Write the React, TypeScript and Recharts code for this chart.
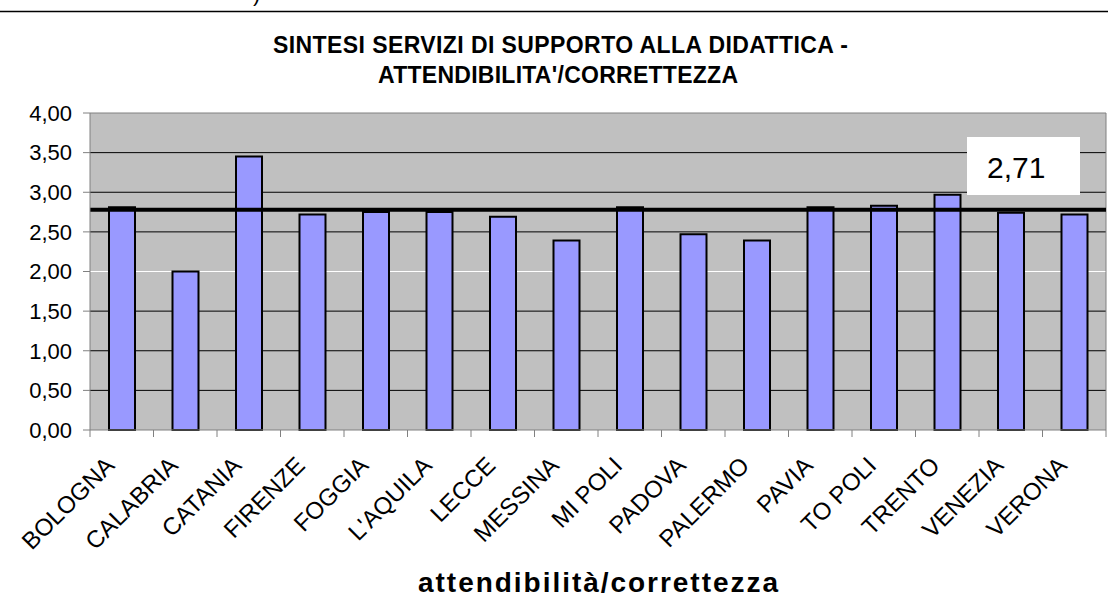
import { Bar, BarChart, CartesianGrid, ReferenceLine, XAxis, YAxis } from 'recharts';

// sedi e punteggi medi "attendibilità/correttezza"
const CITIES = [
  'BOLOGNA', 'CALABRIA', 'CATANIA', 'FIRENZE', 'FOGGIA', "L'AQUILA", 'LECCE', 'MESSINA',
  'MI POLI', 'PADOVA', 'PALERMO', 'PAVIA', 'TO POLI', 'TRENTO', 'VENEZIA', 'VERONA',
];
const SCORES = [2.81, 2.0, 3.45, 2.72, 2.75, 2.75, 2.69, 2.39, 2.81, 2.47, 2.39, 2.81, 2.83, 2.97, 2.74, 2.72];
const Y_TICKS = [0, 0.5, 1, 1.5, 2, 2.5, 3, 3.5, 4];
const MEAN_LINE = 2.78;
const MEAN_LABEL = '2,71';

const W = 1108;
const H = 602;
const PLOT_LEFT = 90;
const PLOT_RIGHT = 2;
const BAND = (W - PLOT_LEFT - PLOT_RIGHT) / CITIES.length;
const FONT = "Arial, 'Liberation Sans', sans-serif";

const data = CITIES.map((name, i) => ({ name, value: SCORES[i] }));

const fmt = (v: number) => v.toFixed(2).replace('.', ',');

// tacche tra le categorie (stile Excel) + etichette ruotate
function CityTick(props: any) {
  const { x, y, payload, index } = props;
  const left = x - BAND / 2;
  return (
    <g>
      <line x1={left} x2={left} y1={y} y2={y + 7} stroke="#808080" />
      {index === CITIES.length - 1 && (
        <line x1={x + BAND / 2} x2={x + BAND / 2} y1={y} y2={y + 7} stroke="#808080" />
      )}
      <text
        transform={`translate(${x - 6},${y + 37}) rotate(-45)`}
        textAnchor="end"
        fontSize={24}
        fontFamily={FONT}
        fill="#000"
      >
        {payload.value}
      </text>
    </g>
  );
}

export default function App() {
  return (
    <div style={{ position: 'absolute', left: 0, top: 0, width: W, height: H, background: '#fff' }}>
      <BarChart
        width={W}
        height={H}
        data={data}
        margin={{ top: 113, right: PLOT_RIGHT, bottom: 0, left: 0 }}
      >
        <CartesianGrid
          vertical={false}
          horizontalValues={[0.5, 1, 1.5, 2.5, 3, 3.5]}
          stroke="#000"
          fill="#C0C0C0"
          fillOpacity={1}
        />
        <CartesianGrid vertical={false} horizontalValues={[2]} stroke="#fff" />
        <CartesianGrid
          horizontalCoordinatesGenerator={({ offset }: any) => [offset.top]}
          verticalCoordinatesGenerator={({ offset }: any) => [offset.left + offset.width]}
          stroke="#808080"
        />
        <XAxis
          dataKey="name"
          height={172}
          interval={0}
          tickLine={false}
          tickSize={0}
          tickMargin={0}
          axisLine={{ stroke: '#808080' }}
          tick={(p: any) => <CityTick {...p} />}
        />
        <YAxis
          width={PLOT_LEFT}
          domain={[0, 4]}
          ticks={Y_TICKS}
          interval={0}
          tickFormatter={fmt}
          tickSize={7}
          tickMargin={11}
          axisLine={{ stroke: '#808080' }}
          tickLine={{ stroke: '#808080' }}
          tick={{ fontSize: 22, fill: '#000', fontFamily: FONT }}
        />
        <Bar
          dataKey="value"
          fill="#9999FF"
          stroke="#000"
          strokeWidth={2}
          barSize={26}
          isAnimationActive={false}
        />
        <ReferenceLine y={MEAN_LINE} stroke="#000" strokeWidth={4} />
      </BarChart>
      <svg
        width={W}
        height={H}
        style={{ position: 'absolute', left: 0, top: 0, pointerEvents: 'none' }}
        fontFamily={FONT}
      >
        <text x={253} y={1} fontSize={22} fill="#000">)</text>
        <line x1={0} x2={W} y1={11.5} y2={11.5} stroke="#000" strokeWidth={1.5} />
        <text x={560.5} y={53} textAnchor="middle" fontSize={23} fontWeight="bold" textLength={575} lengthAdjust="spacing">
          SINTESI SERVIZI DI SUPPORTO ALLA DIDATTICA -
        </text>
        <text x={558} y={83} textAnchor="middle" fontSize={23} fontWeight="bold" textLength={360} lengthAdjust="spacing">
          ATTENDIBILITA'/CORRETTEZZA
        </text>
        <rect x={967} y={137} width={113} height={58} fill="#fff" />
        <text x={987} y={178} fontSize={30} fill="#000">{MEAN_LABEL}</text>
        <text x={598} y={592} textAnchor="middle" fontSize={28} fontWeight="bold" textLength={360} lengthAdjust="spacing">
          attendibilità/correttezza
        </text>
      </svg>
    </div>
  );
}
